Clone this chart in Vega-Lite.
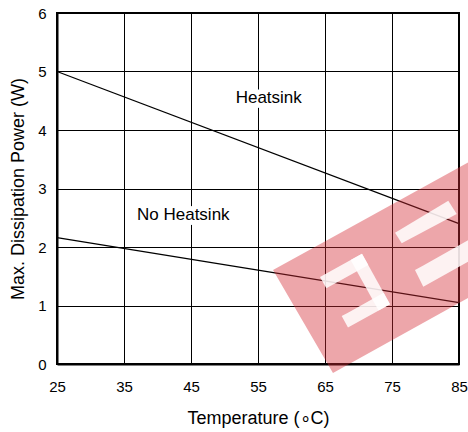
{
  "$schema": "https://vega.github.io/schema/vega-lite/v6.json",
  "width": 402,
  "height": 351,
  "autosize": {"type": "none"},
  "padding": {"left": 57, "top": 13, "right": 9, "bottom": 68},
  "background": "white",
  "config": {
    "view": {"stroke": "black", "strokeWidth": 2},
    "font": "Liberation Sans",
    "axis": {
      "grid": true,
      "gridColor": "black",
      "gridOpacity": 1,
      "gridWidth": 1,
      "domainColor": "black",
      "domainWidth": 2,
      "ticks": false,
      "tickSize": 0,
      "labelFlush": false,
      "labelOverlap": false,
      "labelFontSize": 15,
      "labelColor": "black",
      "labelFont": "Liberation Sans",
      "titleFont": "Liberation Sans",
      "titleFontSize": 18,
      "titleFontWeight": "normal",
      "titleColor": "black"
    }
  },
  "datasets": {
    "curves": [
      {"temp": 25, "power": 5.0, "series": "Heatsink"},
      {"temp": 85, "power": 2.4, "series": "Heatsink"},
      {"temp": 25, "power": 2.16, "series": "No Heatsink"},
      {"temp": 85, "power": 1.05, "series": "No Heatsink"}
    ],
    "labels": [
      {"temp": 56.6, "power": 4.47, "text": "Heatsink"},
      {"temp": 43.85, "power": 2.46, "text": "No Heatsink"}
    ],
    "watermark": [
      {"piece": "base", "wx": 57.24, "hi": 1.607, "lo": 1.607},
      {"piece": "base", "wx": 66.19, "hi": 2.171, "lo": -0.154},
      {"piece": "base", "wx": 94.1, "hi": 3.932, "lo": 1.624},
      {"piece": "bar1", "wx": 75.45, "hi": 2.244, "lo": 2.244},
      {"piece": "bar1", "wx": 76.45, "hi": 2.313, "lo": 2.063},
      {"piece": "bar1", "wx": 83.4, "hi": 2.791, "lo": 2.487},
      {"piece": "bar1", "wx": 84.66, "hi": 2.564, "lo": 2.564},
      {"piece": "bar2", "wx": 78.43, "hi": 1.607, "lo": 1.607},
      {"piece": "bar2", "wx": 79.67, "hi": 1.685, "lo": 1.321},
      {"piece": "bar2", "wx": 86.64, "hi": 2.133, "lo": 1.769},
      {"piece": "cTop", "wx": 64.25, "hi": 1.487, "lo": 1.487},
      {"piece": "cTop", "wx": 65.2, "hi": 1.547, "lo": 1.293},
      {"piece": "cTop", "wx": 70.52, "hi": 1.885, "lo": 1.631},
      {"piece": "cTop", "wx": 71.46, "hi": 1.691, "lo": 1.691},
      {"piece": "cRight", "wx": 68.83, "hi": 1.777, "lo": 1.777},
      {"piece": "cRight", "wx": 70.52, "hi": 1.885, "lo": 1.426},
      {"piece": "cRight", "wx": 73.0, "hi": 1.373, "lo": 0.914},
      {"piece": "cRight", "wx": 74.7, "hi": 1.022, "lo": 1.022},
      {"piece": "cBottom", "wx": 67.49, "hi": 0.819, "lo": 0.819},
      {"piece": "cBottom", "wx": 68.43, "hi": 0.878, "lo": 0.624},
      {"piece": "cBottom", "wx": 73.76, "hi": 1.217, "lo": 0.962},
      {"piece": "cBottom", "wx": 74.7, "hi": 1.022, "lo": 1.022}
    ]
  },
  "layer": [
    {
      "data": {"name": "curves"},
      "mark": {"type": "line", "color": "black", "strokeWidth": 1.3},
      "encoding": {
        "x": {
          "field": "temp",
          "type": "quantitative",
          "scale": {"domain": [25, 85], "nice": false, "zero": false},
          "axis": {
            "values": [25, 35, 45, 55, 65, 75, 85],
            "format": "d",
            "labelPadding": 15,
            "title": "Temperature (∘C)",
            "titlePadding": 15
          }
        },
        "y": {
          "field": "power",
          "type": "quantitative",
          "scale": {"domain": [0, 6], "nice": false, "zero": false},
          "axis": {
            "values": [0, 1, 2, 3, 4, 5, 6],
            "format": "d",
            "labelPadding": 11,
            "title": "Max. Dissipation Power (W)",
            "titlePadding": 10
          }
        },
        "detail": {"field": "series"}
      }
    },
    {
      "data": {"name": "labels"},
      "mark": {"type": "text", "font": "Liberation Sans", "fontSize": 17, "align": "center", "baseline": "alphabetic", "fill": "white", "stroke": "white", "strokeWidth": 10, "strokeJoin": "round"},
      "encoding": {
        "x": {"field": "temp", "type": "quantitative"},
        "y": {"field": "power", "type": "quantitative"},
        "text": {"field": "text"}
      }
    },
    {
      "data": {"name": "labels"},
      "mark": {"type": "text", "font": "Liberation Sans", "fontSize": 17, "align": "center", "baseline": "alphabetic", "color": "black"},
      "encoding": {
        "x": {"field": "temp", "type": "quantitative"},
        "y": {"field": "power", "type": "quantitative"},
        "text": {"field": "text"}
      }
    },
    {
      "data": {"name": "watermark"},
      "transform": [{"filter": "datum.piece === 'base'"}],
      "mark": {"type": "area", "color": "#d42a35", "opacity": 0.42},
      "encoding": {
        "x": {"field": "wx", "type": "quantitative"},
        "y": {"field": "hi", "type": "quantitative"},
        "y2": {"field": "lo"},
        "detail": {"field": "piece"}
      }
    },
    {
      "data": {"name": "watermark"},
      "transform": [{"filter": "datum.piece !== 'base'"}],
      "mark": {"type": "area", "color": "white", "opacity": 0.85},
      "encoding": {
        "x": {"field": "wx", "type": "quantitative"},
        "y": {"field": "hi", "type": "quantitative"},
        "y2": {"field": "lo"},
        "detail": {"field": "piece"}
      }
    }
  ]
}
